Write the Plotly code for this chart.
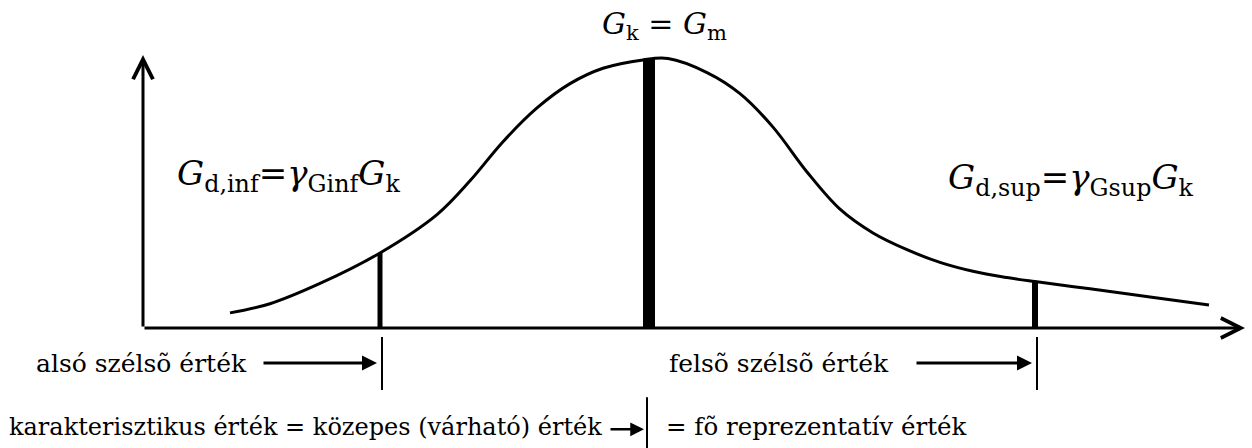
import plotly.graph_objects as go

# ---- data -------------------------------------------------------------
# skewed distribution curve (x: value, y: relative frequency)
curve_x = [8.7, 12.7, 17.7, 23.7, 29.4, 32.7, 36.0, 39.4, 42.7, 46.0, 50.0, 52.5,
           56.4, 59.7, 63.0, 66.4, 69.7, 73.0, 76.4, 79.7, 83.0, 86.4, 89.2,
           94.7, 100.7, 106.6]
curve_y = [0.056, 0.090, 0.165, 0.278, 0.420, 0.545, 0.690, 0.815, 0.905, 0.962, 0.993, 0.998,
           0.946, 0.868, 0.744, 0.578, 0.440, 0.352, 0.290, 0.243, 0.210, 0.187, 0.172,
           0.145, 0.115, 0.085]

# characteristic values: lower extreme, mean (= characteristic), upper extreme
value_names = ["inf", "k", "sup"]
value_x = [23.7, 50.6, 89.2]
value_h = [0.278, 0.997, 0.172]
value_w = [5, 12, 6]

# text labels
label_inf = "<i>G</i><sub>d,inf</sub>=<i>γ</i><sub>Ginf</sub><i>G</i><sub>k</sub>"
label_sup = "<i>G</i><sub>d,sup</sub>=<i>γ</i><sub>Gsup</sub><i>G</i><sub>k</sub>"
label_k = "<i>G</i><sub>k</sub> = <i>G</i><sub>m</sub>"
label_low = "alsó szélsõ érték"
label_up = "felsõ szélsõ érték"
label_char = "karakterisztikus érték = közepes (várható) érték"
label_rep = "= fõ reprezentatív érték"

X_RANGE = [-14.3, 110.9]
Y_RANGE = [-0.4444, 1.2148]
FONT = "DejaVu Serif"

fig = go.Figure()

# curve
fig.add_trace(go.Scatter(x=curve_x, y=curve_y, mode="lines",
                         line=dict(color="black", width=3, shape="spline", smoothing=1.0),
                         hoverinfo="skip", showlegend=False))

# vertical value lines
for vx, vh, vw in zip(value_x, value_h, value_w):
    fig.add_trace(go.Scatter(x=[vx, vx], y=[0, vh], mode="lines",
                             line=dict(color="black", width=vw),
                             hoverinfo="skip", showlegend=False))

annotations = []
# axes with open arrowheads
annotations.append(dict(x=110.2, y=0, ax=0, ay=0, xref="x", yref="y", axref="x", ayref="y",
                        text="", showarrow=True, arrowhead=5, arrowwidth=3, arrowsize=1.3,
                        arrowcolor="black"))
annotations.append(dict(x=0, y=1.011, ax=0, ay=0, xref="x", yref="y", axref="x", ayref="y",
                        text="", showarrow=True, arrowhead=5, arrowwidth=3, arrowsize=1.3,
                        arrowcolor="black"))

# pointer arrows below the axis
lo, mid, up = value_x
annotations.append(dict(x=lo - 0.3, y=-0.13, ax=lo - 11.8, ay=-0.13, xref="x", yref="y",
                        axref="x", ayref="y", text="", showarrow=True, arrowhead=2,
                        arrowwidth=3, arrowsize=1.0, arrowcolor="black"))
annotations.append(dict(x=up - 0.3, y=-0.13, ax=up - 12.0, ay=-0.13, xref="x", yref="y",
                        axref="x", ayref="y", text="", showarrow=True, arrowhead=2,
                        arrowwidth=3, arrowsize=1.0, arrowcolor="black"))
annotations.append(dict(x=mid - 0.5, y=-0.375, ax=mid - 4.0, ay=-0.375, xref="x", yref="y",
                        axref="x", ayref="y", text="", showarrow=True, arrowhead=2,
                        arrowwidth=2.5, arrowsize=1.1, arrowcolor="black"))

def txt(t, x, y, size, xanchor="left"):
    return dict(x=x, y=y, xref="x", yref="y", text=t, showarrow=False,
                xanchor=xanchor, yanchor="middle",
                font=dict(family=FONT, size=size, color="black"))

annotations += [
    txt(label_k, 52.1, 1.12, 30, xanchor="center"),
    txt(label_inf, 3.2, 0.565, 34),
    txt(label_sup, 80.3, 0.55, 34),
    txt(label_low, -10.9, -0.13, 25),
    txt(label_up, 52.4, -0.13, 25),
    txt(label_char, -13.6, -0.365, 24),
    txt(label_rep, 52.1, -0.365, 24.5),
]

shapes = [
    dict(type="line", xref="x", yref="y", x0=lo + 0.2, x1=lo + 0.2, y0=-0.033, y1=-0.23,
         line=dict(color="black", width=2)),
    dict(type="line", xref="x", yref="y", x0=up + 0.2, x1=up + 0.2, y0=-0.033, y1=-0.23,
         line=dict(color="black", width=2)),
    dict(type="line", xref="x", yref="y", x0=mid - 0.2, x1=mid - 0.2, y0=-0.256, y1=-0.4444,
         line=dict(color="black", width=2)),
]

fig.update_layout(
    width=1252, height=448, autosize=False,
    margin=dict(l=0, r=0, t=0, b=0),
    font=dict(family=FONT, size=25, color="black"),
    paper_bgcolor="white", plot_bgcolor="white",
    xaxis=dict(range=X_RANGE, visible=False, fixedrange=True),
    yaxis=dict(range=Y_RANGE, visible=False, fixedrange=True),
    annotations=annotations, shapes=shapes, showlegend=False,
)

fig.write_html("out.html", config={"displayModeBar": False},
               post_script="document.body.style.margin='0';document.body.style.overflow='hidden';")
